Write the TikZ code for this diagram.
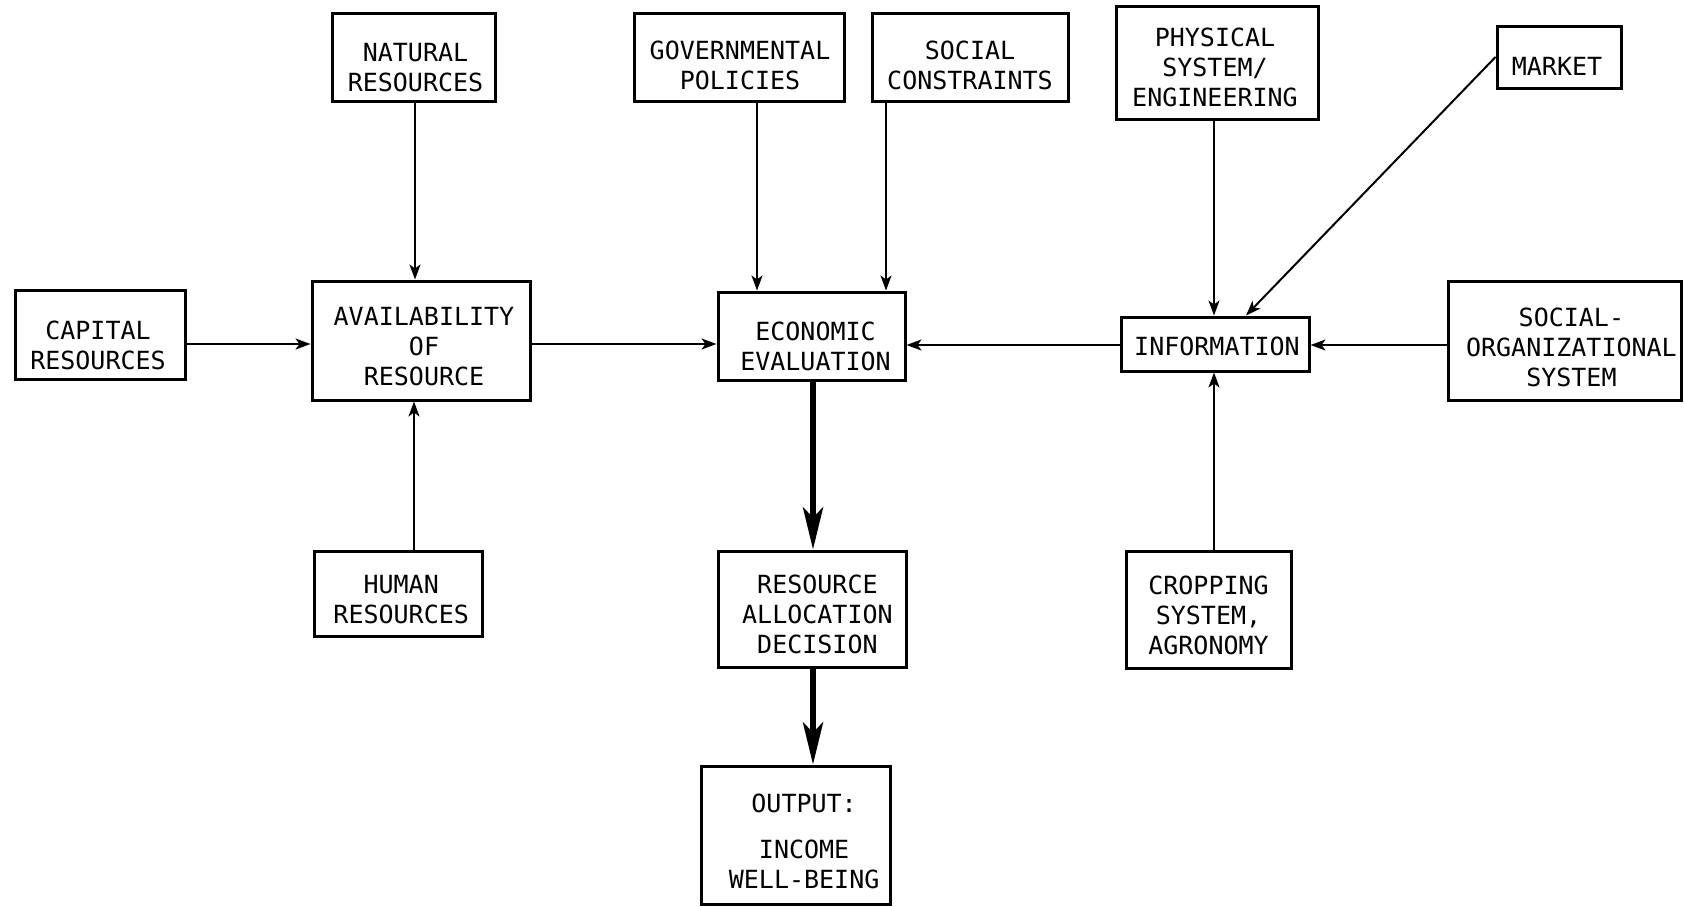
\documentclass[tikz,border=0pt]{standalone}
\usepackage{fontspec}
\setmainfont{DejaVu Sans Mono}
\usetikzlibrary{arrows.meta,calc}
\tikzset{
  box/.style={draw, line width=1.5pt, rectangle, inner sep=0pt},
  txt/.style={inner sep=0pt, align=center, font=\fontsize{12.5pt}{15pt}\selectfont},
  arr/.style={line width=1pt, -{Stealth[length=7.5pt,width=5.5pt,inset=2pt]}},
  thick arr/.style={line width=3pt, -{Stealth[length=21pt,width=10pt,inset=5pt]}}
}
\begin{document}
\begin{tikzpicture}[x=0.5pt,y=-0.5pt]
\useasboundingbox (0,0) rectangle (1684,906);
% boxes (centres and sizes in px of the reference)
\node[box, minimum width=85pt, minimum height=44.5pt] (cap) at (100,334.5) {};
\node[box, minimum width=109pt, minimum height=59.5pt] (avail) at (421,340.5) {};
\node[box, minimum width=81.5pt, minimum height=44pt] (nat) at (413.5,57) {};
\node[box, minimum width=84pt, minimum height=42.5pt] (hum) at (398,593.5) {};
\node[box, minimum width=105pt, minimum height=44pt] (gov) at (739,57) {};
\node[box, minimum width=98pt, minimum height=44pt] (soc) at (970,57) {};
\node[box, minimum width=93.5pt, minimum height=44pt] (econ) at (811.5,336) {};
\node[box, minimum width=94pt, minimum height=27pt] (info) at (1215,344) {};
\node[box, minimum width=101pt, minimum height=56.5pt] (phys) at (1217,62.5) {};
\node[box, minimum width=62pt, minimum height=31pt] (mkt) at (1559,57) {};
\node[box, minimum width=116.5pt, minimum height=59.5pt] (sorg) at (1565,340.5) {};
\node[box, minimum width=94pt, minimum height=58pt] (rad) at (812,609) {};
\node[box, minimum width=94.5pt, minimum height=69pt] (out) at (795.5,835) {};
\node[box, minimum width=82.5pt, minimum height=58.5pt] (crop) at (1208.5,609.5) {};
% texts
\node[txt, xshift=-1pt, yshift=-5.5pt] (capT) at (cap) {CAPITAL\\RESOURCES};
\node[txt, xshift=1.5pt, yshift=-3.2pt] (availT) at (avail) {AVAILABILITY\\OF\\RESOURCE};
\node[txt, xshift=1pt, yshift=-5.2pt] (natT) at (nat) {NATURAL\\RESOURCES};
\node[txt, xshift=1.6pt, yshift=-2.8pt] (humT) at (hum) {HUMAN\\RESOURCES};
\node[txt, xshift=0.5pt, yshift=-4.3pt] (govT) at (gov) {GOVERNMENTAL\\POLICIES};
\node[txt, xshift=0pt, yshift=-4.3pt] (socT) at (soc) {SOCIAL\\CONSTRAINTS};
\node[txt, xshift=2pt, yshift=-5.2pt] (econT) at (econ) {ECONOMIC\\EVALUATION};
\node[txt, xshift=1pt, yshift=-1pt] (infoT) at (info) {INFORMATION};
\node[txt, xshift=-1pt, yshift=-2.2pt] (physT) at (phys) {PHYSICAL\\SYSTEM/\\ENGINEERING};
\node[txt, xshift=-1pt, yshift=-4.8pt] (mktT) at (mkt) {MARKET};
\node[txt, xshift=3.2pt, yshift=-3.2pt] (sorgT) at (sorg) {SOCIAL-\\ORGANIZATIONAL\\SYSTEM};
\node[txt, xshift=2.7pt, yshift=-2.7pt] (radT) at (rad) {RESOURCE\\ALLOCATION\\DECISION};
\node[txt, xshift=4.3pt, yshift=-3.2pt] (outT) at (out) {OUTPUT:\\[8pt]INCOME\\WELL-BEING};
\node[txt, xshift=0pt, yshift=-2.7pt] (cropT) at (crop) {CROPPING\\SYSTEM,\\AGRONOMY};
% connectors
\draw[arr] (cap.east |- 0,344) -- (avail.west |- 0,344);
\draw[arr] (nat.south -| 415,0) -- (avail.north -| 415,0);
\draw[arr] (hum.north -| 414,0) -- (avail.south -| 414,0);
\draw[arr] (avail.east |- 0,344) -- (econ.west |- 0,344);
\draw[arr] (gov.south -| 757,0) -- (econ.north -| 757,0);
\draw[arr] (soc.south -| 886,0) -- (econ.north -| 886,0);
\draw[arr] (info.west |- 0,345) -- (econ.east |- 0,345);
\draw[arr] (phys.south -| 1214,0) -- (info.north -| 1214,0);
\draw[arr] (crop.north -| 1214,0) -- (info.south -| 1214,0);
\draw[arr] (mkt.west) -- (info.north -| 1246,0);
\draw[arr] (sorg.west |- 0,345) -- (info.east |- 0,345);
\draw[thick arr] (econ.south -| 813,0) -- (rad.north -| 813,0);
\draw[thick arr] (rad.south -| 813,0) -- (out.north -| 813,0);
\end{tikzpicture}
\end{document}
